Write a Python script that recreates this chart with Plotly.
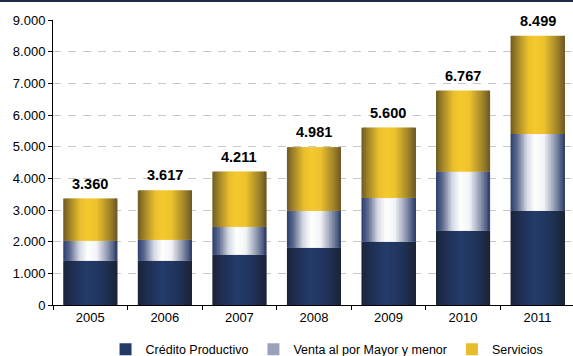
import plotly.graph_objects as go

years = ["2005", "2006", "2007", "2008", "2009", "2010", "2011"]
credito = [1400, 1400, 1590, 1810, 2000, 2345, 2975]
venta = [630, 660, 880, 1165, 1385, 1870, 2425]
servicios = [1330, 1557, 1741, 2006, 2215, 2552, 3099]
totales = [3360, 3617, 4211, 4981, 5600, 6767, 8499]
series_names = ["Crédito Productivo", "Venta al por Mayor y menor", "Servicios"]

W, H = 573, 356
ML, MR, MT, MB = 53, 0, 20, 51

# gradient stops across bar width (style)
grads = {
    "Crédito Productivo": [(0, "#1b2438"), (0.15, "#1f2d4f"), (0.45, "#243c6a"), (0.75, "#21335a"), (1, "#1c2335")],
    "Venta al por Mayor y menor": [(0, "#2b3d6c"), (0.12, "#5d6a8f"), (0.3, "#d5d9e3"), (0.45, "#ffffff"),
                                   (0.62, "#f2f3f6"), (0.82, "#8e97b0"), (1, "#2c3b68")],
    "Servicios": [(0, "#6f5a22"), (0.12, "#a08528"), (0.32, "#eabf2d"), (0.45, "#f5c92e"),
                  (0.62, "#edc22d"), (0.85, "#a3872a"), (1, "#6f5a24")],
}
legend_colors = {"Crédito Productivo": "#243a66", "Venta al por Mayor y menor": "#9aa3bb", "Servicios": "#e8bd2d"}


def hex2rgb(h):
    h = h.lstrip("#")
    return tuple(int(h[i:i + 2], 16) for i in (0, 2, 4))


def interp(stops, t):
    for (t0, c0), (t1, c1) in zip(stops, stops[1:]):
        if t0 <= t <= t1:
            f = (t - t0) / (t1 - t0) if t1 > t0 else 0
            a, b = hex2rgb(c0), hex2rgb(c1)
            return "rgb(%d,%d,%d)" % tuple(round(a[i] + (b[i] - a[i]) * f) for i in range(3))
    return stops[-1][1]


fig = go.Figure()
bar_w = 0.725
K = 36
sw = bar_w / K

values = [credito, venta, servicios]
bases = [[0] * 7,
         credito,
         [c + v for c, v in zip(credito, venta)]]

for name, vals, base in zip(series_names, values, bases):
    for k in range(K):
        t = (k + 0.5) / K
        off = -bar_w / 2 + k * sw
        wdt = min(2 * sw, bar_w / 2 - off)
        fig.add_trace(go.Bar(
            x=years, y=vals, base=base,
            offset=off, width=wdt,
            marker=dict(color=interp(grads[name], t), line=dict(width=0)),
            showlegend=False, hoverinfo="skip",
        ))

for name in series_names:
    fig.add_trace(go.Bar(x=[None], y=[None], name=name,
                         marker=dict(color=legend_colors[name], line=dict(width=0))))

for i, tot in enumerate(totales):
    fig.add_annotation(x=i, y=tot, text="<b>" + f"{tot:,}".replace(",", ".") + "</b>", showarrow=False,
                       yanchor="bottom", yshift=5,
                       font=dict(family="Liberation Sans, Arial", size=14.5, color="#000000"))

# top border line
fig.add_shape(type="line", xref="paper", yref="paper",
              x0=-ML / (W - ML - MR), x1=1.0,
              y0=1 + (MT - 1) / (H - MT - MB), y1=1 + (MT - 1) / (H - MT - MB),
              line=dict(color="#1f2a44", width=2))

fig.update_layout(
    width=W, height=H,
    margin=dict(l=ML, r=MR, t=MT, b=MB, autoexpand=False),
    barmode="overlay",
    separators=",.",
    plot_bgcolor="white", paper_bgcolor="white",
    font=dict(family="Liberation Sans, Arial", size=13, color="#000000"),
    showlegend=True,
    legend=dict(orientation="h", x=0.527, xanchor="center", y=-0.157, yanchor="middle",
                font=dict(size=12.5), itemwidth=30, traceorder="normal",
                bgcolor="rgba(0,0,0,0)"),
    xaxis=dict(type="category", range=[-0.5, 6.475], showline=True, linecolor="#000000",
               linewidth=1, ticks="outside", tickson="boundaries", ticklen=4,
               tickcolor="#000000", showgrid=False, fixedrange=True, automargin=False),
    yaxis=dict(range=[0, 9000], dtick=1000, tickformat=",d", showline=True,
               linecolor="#000000", linewidth=1, ticks="outside", ticklen=4,
               tickcolor="#000000", showgrid=True, gridcolor="#c8c8c8", gridwidth=1,
               griddash="8px,7px", zeroline=False, fixedrange=True, automargin=False),
)

fig.write_html("out.html", config={"displayModeBar": False},
               post_script="document.body.style.margin='0';document.body.style.overflow='hidden';")
